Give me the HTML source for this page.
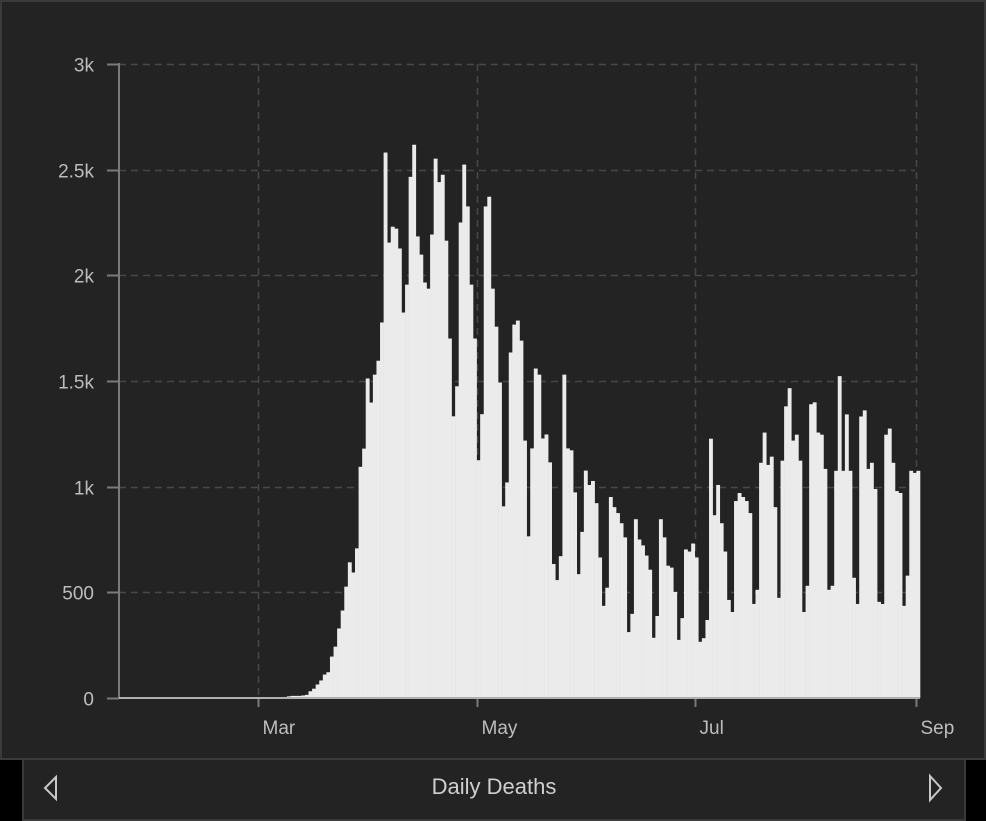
<!DOCTYPE html>
<html><head><meta charset="utf-8">
<style>
html,body{margin:0;padding:0;background:#000;width:986px;height:821px;overflow:hidden;font-family:"Liberation Sans",sans-serif;}
#panel{position:absolute;left:0;top:0;width:982px;height:756px;background:#232323;border:2px solid #3a3a3a;}
#footer{position:absolute;left:22px;top:760px;width:940px;height:59px;background:#232323;border:2px solid #3a3a3a;border-top:none;}
#title{position:absolute;left:0;right:0;top:14px;text-align:center;color:#cfcfcf;font-size:22px;}
svg{position:absolute;left:0;top:0;}
</style></head><body>
<div id="panel"></div>
<div id="footer">
  <div id="title">Daily Deaths</div>
</div>
<svg width="986" height="821" id="chart">
  <g id="grid"></g><g id="bars"></g><g id="axes"></g>
  <polygon points="56,777 45,788 56,799" fill="none" stroke="#c8c8c8" stroke-width="2"/>
  <polygon points="930,776 941,788 930,800" fill="none" stroke="#c8c8c8" stroke-width="2"/>
</svg>
<script>
const yTicks=[0,500,1000,1500,2000,2500,3000];
const yTickLabels=["0","500","1k","1.5k","2k","2.5k","3k"];
const xTickDays=[39,100,161,223];
const xTickLabels=["Mar","May","Jul","Sep"];
const earlyDeaths=[0,0,0,0,0,0,0,0,0,0,0,0,0,0,0,0,0,0,0,0,0,0,0,0,0,0,0,0,0,0,0,0,0,0,0,0,0,0,1,1,0,2,1,2,3,4,5,8,10,10,10,12,15];
const marchAprilDeaths=[15,32,44,64,83,111,122,196,243,329,414,527,642,594,708,1094,1180,1512,1398,1530,1596,1777,2581,2155,2230,2221,2127,1824,1956,2466,2618,2184,2098,1966,1937,2193,2552];
const mayJuneDeaths=[2441,2476,2164,1701,1333,1475,2250,2524,2326,1956,1701,1125,1343,2326,2372,1937,1757,1493,907,1020,1635,1767,1786,1691,1218,765,1181,1559,1530,1228,1247,1115,634,558,671,1530,1181,1172,973,586,786,1076,1008,1027,922,665,436,522,951,903,875,827,760,312,398,846,750,722,674,607,285,388,846,760,626,617,502,275,378,703,693,731,665,266,283,369];
const julAugDeaths=[1227,865,1008,827,693,464,407,932,970,951,932,875,445,512,1113,1256,1103,1142,903,474,1123,1380,1466,1218,1246,1123,407,531,1390,1399,1256,1246,1084,512,531,1075,1523,1075,1342,1075,569,445,1332,1361,1084,1113,989,455,445,1246,1275,1113,979,970,436,579,1075,1065,1075];
const deaths=earlyDeaths.concat(marchAprilDeaths.slice(1),mayJuneDeaths,julAugDeaths);

const X0=119,X1=920,Y0=698,Y1=64,YMAX=3000;
const step=(X1-X0)/deaths.length;
const xDay=d=>X0+d*step;
const yVal=v=>Y0-(v/YMAX)*(Y0-Y1);
const NS="http://www.w3.org/2000/svg";
function mk(tag,attrs,parent){const e=document.createElementNS(NS,tag);for(const k in attrs)e.setAttribute(k,attrs[k]);parent.appendChild(e);return e;}
const grid=document.getElementById('grid'),bars=document.getElementById('bars'),axes=document.getElementById('axes');

yTicks.forEach((t,i)=>{
  const y=Math.round(yVal(t))+0.5;
  if(t>0){const g=mk('line',{x1:X0,x2:915,y1:y,y2:y,stroke:'#474747','stroke-width':1.5,'stroke-dasharray':'7,5'},grid);
    
    }
  const tk=mk('line',{x1:107,x2:X0,y1:y,y2:y,stroke:'#7a7a7a','stroke-width':2},axes);
  
  
  const tx=mk('text',{x:94,y:y+7,'text-anchor':'end',fill:'#bdbdbd','font-size':19,'font-family':'Liberation Sans, sans-serif'},axes);
  tx.textContent=yTickLabels[i];
  
  
});
xTickDays.forEach((d,i)=>{
  const x=Math.round(xDay(d))+0.5;
  const g=mk('line',{x1:x,x2:x,y1:Y1,y2:Y0,stroke:'#474747','stroke-width':1.5,'stroke-dasharray':'7,5'},grid);
  
  
  const tk=mk('line',{x1:x,x2:x,y1:Y0,y2:707,stroke:'#7a7a7a','stroke-width':2},axes);
  
  
  const tx=mk('text',{x:x+4,y:734,fill:'#bdbdbd','font-size':19,'font-family':'Liberation Sans, sans-serif'},axes);
  tx.textContent=xTickLabels[i];
  
  
});
deaths.forEach((v,d)=>{
  const y=yVal(v);
  const r=mk('rect',{x:xDay(d),y:y,width:step+0.3,height:Y0-y,fill:'#ebebeb'},bars);
  
  
});
const ya=mk('line',{x1:X0,x2:X0,y1:Y1-1,y2:Y0,stroke:'#7a7a7a','stroke-width':2},axes);


const xa=mk('line',{x1:X0,x2:X1,y1:Y0,y2:Y0,stroke:'#b0b0b0','stroke-width':2},axes);


</script>
</body></html>
